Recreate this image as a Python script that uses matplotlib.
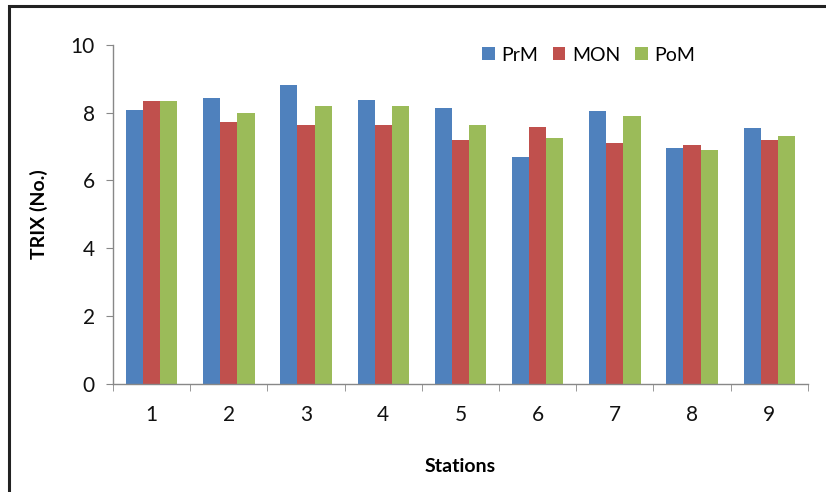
import matplotlib
matplotlib.use("Agg")
import matplotlib.pyplot as plt
import numpy as np
from matplotlib.patches import Rectangle

plt.rcParams['font.family'] = ['Lato', 'DejaVu Sans']

stations = ["1", "2", "3", "4", "5", "6", "7", "8", "9"]
series_names = ["PrM", "MON", "PoM"]
prm = [8.09, 8.43, 8.83, 8.39, 8.14, 6.70, 8.04, 6.95, 7.55]
mon = [8.34, 7.74, 7.64, 7.64, 7.20, 7.59, 7.10, 7.05, 7.20]
pom = [8.34, 7.99, 8.19, 8.19, 7.64, 7.25, 7.89, 6.90, 7.30]
colors = ["#4F81BD", "#C0504D", "#9BBB59"]
yticks = [0, 2, 4, 6, 8, 10]

fig = plt.figure(figsize=(8.26, 4.92), dpi=100)
ax = fig.add_axes([0.1368, 0.2201, 0.978 - 0.1368, 0.9085 - 0.2201])

x = np.arange(len(stations))
w = 0.222
for i, (vals, name, c) in enumerate(zip([prm, mon, pom], series_names, colors)):
    ax.bar(x + (i - 1) * w, vals, width=w, color=c, label=name, zorder=2)

ax.set_xlim(-0.5, len(stations) - 0.5)
ax.set_ylim(0, 10)
ax.set_yticks(yticks)
ax.set_yticklabels([str(t) for t in yticks], fontsize=15, color='#111111')
ax.set_xticks(x)
ax.set_xticklabels(stations, fontsize=15, color='#111111')
ax.set_xticks(np.arange(-0.5, len(stations), 1), minor=True)
ax.tick_params(axis='x', which='major', length=0, pad=15)
ax.tick_params(axis='x', which='minor', length=5, color='#888888', direction='out')
ax.tick_params(axis='y', length=5, color='#888888', direction='out', pad=8)

for s in ['top', 'right']:
    ax.spines[s].set_visible(False)
for s in ['left', 'bottom']:
    ax.spines[s].set_color('#888888')
    ax.spines[s].set_linewidth(1.0)

ax.set_ylabel("TRIX (No.)", fontsize=14, fontweight='bold', labelpad=16)
ax.set_xlabel("Stations", fontsize=14, fontweight='bold', labelpad=24)

leg = ax.legend(loc='upper left', bbox_to_anchor=(0.531, 0.995), ncol=3, frameon=False,
                fontsize=14, handlelength=0.65, handleheight=0.65, handletextpad=0.35,
                columnspacing=0.75, borderaxespad=0, borderpad=0)

fig.patches.append(Rectangle((9 / 826, -0.1), 1.2, 1 - 6 / 492 + 0.1, transform=fig.transFigure,
                             fill=False, edgecolor='#222222', linewidth=2.2))

fig.savefig("out.png", dpi=100)
